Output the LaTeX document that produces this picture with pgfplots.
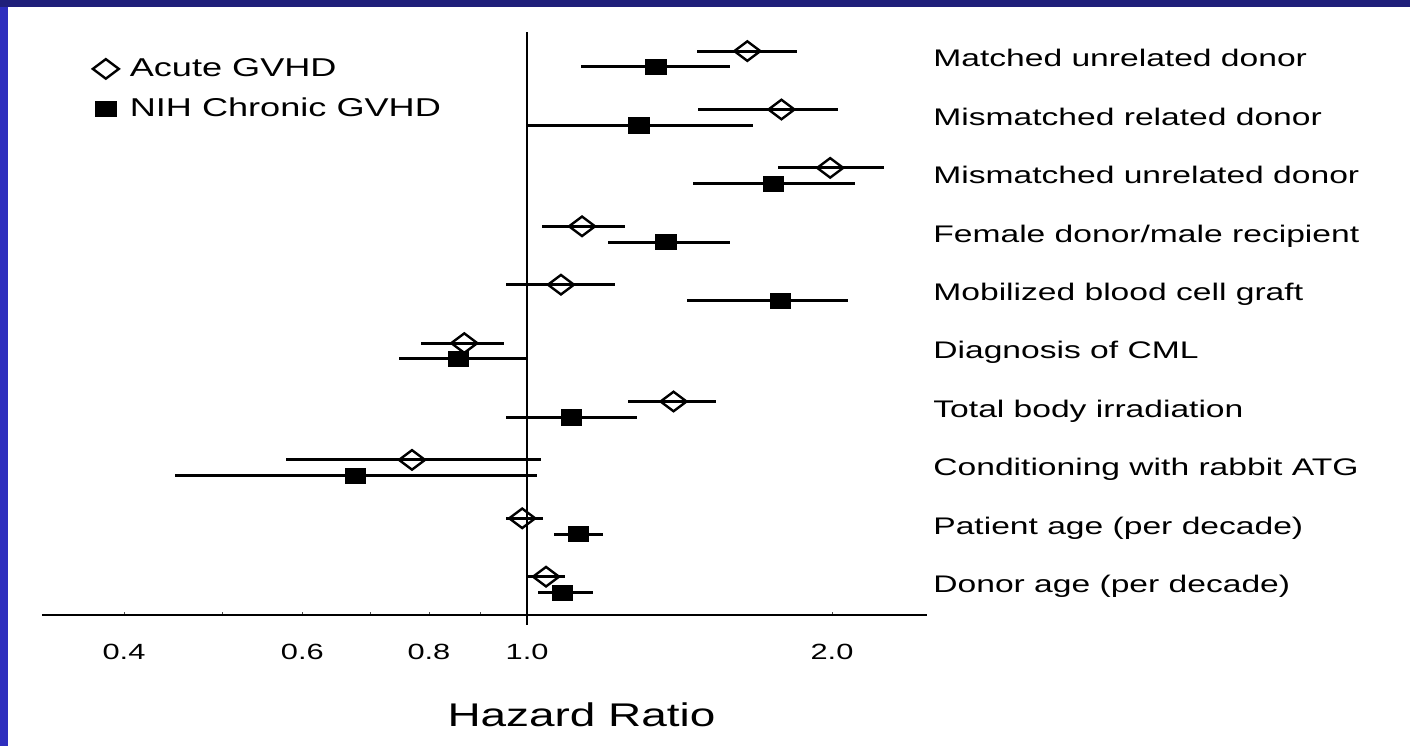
\documentclass[border=0pt]{standalone}
\usepackage{fontspec}
\setmainfont{Liberation Sans}[FakeStretch=1.4]
\usepackage{pgfplots}
\usepackage{pgfplotstable}
\pgfplotsset{compat=1.18}
\definecolor{navy}{RGB}{31,31,122}
\definecolor{leftblue}{RGB}{46,46,190}

% k = row (1 = top), hr = hazard ratio, lo/hi = 95% CI
\pgfplotstableread{
k hr lo hi
1 1.650 1.470 1.849
2 1.783 1.474 2.029
3 1.992 1.767 2.252
4 1.133 1.035 1.249
5 1.080 0.954 1.221
6 0.867 0.785 0.949
7 1.395 1.257 1.535
8 0.770 0.578 1.032
9 0.989 0.954 1.037
10 1.044 1.000 1.090
}\acutetab
\pgfplotstableread{
k hr lo hi
1 1.340 1.130 1.588
2 1.289 1.000 1.673
3 1.751 1.457 2.109
4 1.371 1.202 1.588
5 1.779 1.437 2.075
6 0.855 0.748 1.000
7 1.105 0.954 1.283
8 0.677 0.449 1.023
9 1.123 1.063 1.188
10 1.083 1.025 1.161
}\chrontab

\begin{document}
\begin{tikzpicture}[x=1pt,y=1pt]
\path[use as bounding box] (0,0) rectangle (705,373);
\fill[white] (0,0) rectangle (705,373);
\fill[leftblue] (0,0) rectangle (4.2,373);
\fill[navy] (0,369.5) rectangle (705,373);
\begin{axis}[
  at={(21pt,65.5pt)}, anchor=south west,
  scale only axis, width=442.5pt, height=291.5pt,
  xmode=log, xmin=0.332, xmax=2.482,
  ymin=0.479, ymax=10.462,
  clip=false,
  axis x line=bottom, axis y line=right,
  y axis line style={draw=none},
  x axis line style={-, line width=0.8pt},
  xtick={0.4,0.6,0.8,1,2},
  xticklabels={0.4,0.6,0.8,1.0,2.0},
  minor xtick={0.5,0.7,0.9},
  tick align=inside,
  major tick length=1.5pt, minor tick length=1.5pt,
  xtick style={line width=0.4pt, black!70},
  ytick style={draw=none},
  ytick={1,...,10},
  yticklabels={Donor age (per decade),Patient age (per decade),Conditioning with rabbit ATG,Total body irradiation,Diagnosis of CML,Mobilized blood cell graft,Female donor/male recipient,Mismatched unrelated donor,Mismatched related donor,Matched unrelated donor},
  xticklabel style={font=\fontsize{11}{13}\selectfont, anchor=base, yshift=-22pt},
  yticklabel style={font=\fontsize{12}{14}\selectfont, anchor=base west, inner sep=0pt, xshift=3pt, yshift=-4pt},
  xlabel={Hazard Ratio},
  xlabel style={at={(axis description cs:0.6096,0)}, anchor=base, yshift=-55.5pt, font=\fontsize{16.4}{18}\selectfont},
  legend style={at={(axis description cs:0.057,1)}, anchor=north west, yshift=-11pt,
    draw=none, fill=none, inner sep=0pt, font=\fontsize{12.9}{14}\selectfont,
    row sep=5.2pt, column sep=3.5pt},
  legend cell align=left,
]
\addplot[forget plot, line width=0.8pt, black] coordinates {(1,10.462) (1,0.308)};
\addplot[only marks, mark=diamond, mark size=6.5pt,
  mark options={rotate=90, fill=white, draw=black, line width=1.2pt, solid},
  error bars/.cd, x dir=both, x explicit, error mark=none,
  error bar style={line width=1.5pt, black}]
  table[x=hr, y expr=11-\thisrow{k}+0.135,
    x error plus expr=\thisrow{hi}-\thisrow{hr},
    x error minus expr=\thisrow{hr}-\thisrow{lo}] {\acutetab};
\addplot[only marks, mark=square*, mark size=3.8pt,
  mark options={xscale=1.33, fill=black, draw=black, line width=0.3pt, solid},
  error bars/.cd, x dir=both, x explicit, error mark=none,
  error bar style={line width=1.5pt, black}]
  table[x=hr, y expr=11-\thisrow{k}-0.135,
    x error plus expr=\thisrow{hi}-\thisrow{hr},
    x error minus expr=\thisrow{hr}-\thisrow{lo}] {\chrontab};
\legend{Acute GVHD, NIH Chronic GVHD}
\end{axis}
\end{tikzpicture}
\end{document}
